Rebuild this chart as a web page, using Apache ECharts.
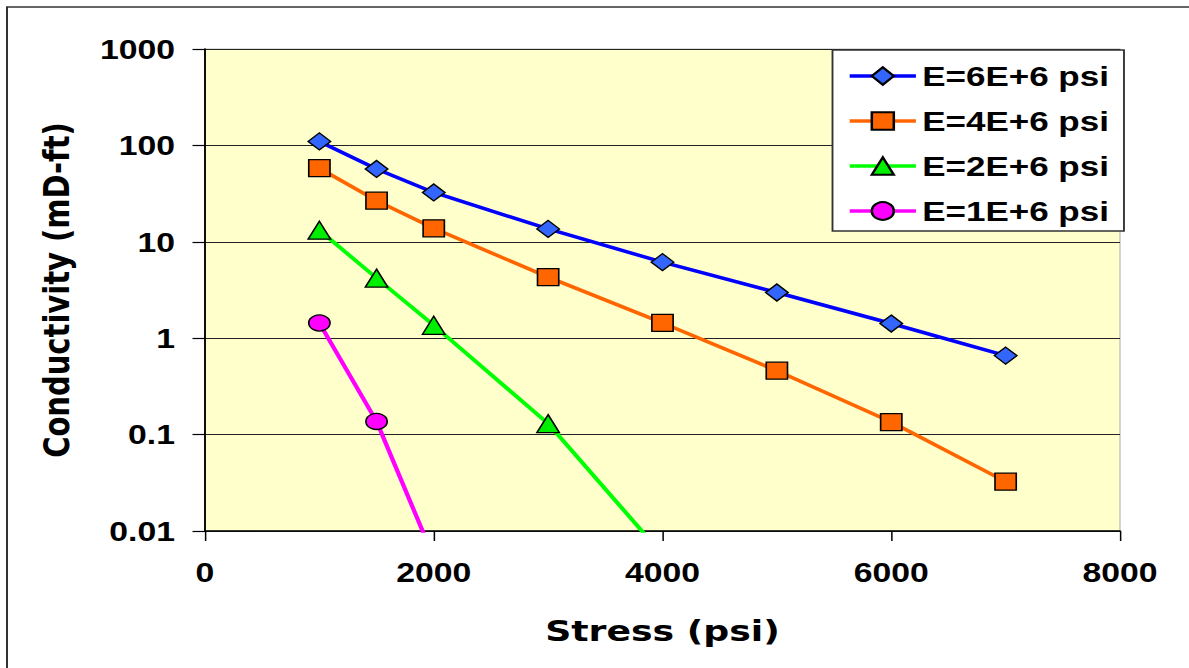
<!DOCTYPE html>
<html>
<head>
<meta charset="utf-8">
<script src="https://cdn.jsdelivr.net/npm/echarts@6/dist/echarts.min.js"></script>
<style>
  html, body { margin: 0; padding: 0; background: #fff; overflow: hidden; }
  #wrap { width: 1189px; height: 668px; overflow: hidden; position: relative; }
  #chart { width: 952px; height: 668px; transform: scaleX(1.25); transform-origin: 0 0; }
</style>
</head>
<body>
<div id="wrap"><div id="chart"></div></div>
<script>
// Data
const seriesNames = ['E=6E+6 psi', 'E=4E+6 psi', 'E=2E+6 psi', 'E=1E+6 psi'];
const stressE6 = [1000, 1500, 2000, 3000, 4000, 5000, 6000, 7000];
const condE6   = [110, 57, 32.5, 13.6, 6.15, 2.98, 1.42, 0.66];
const stressE4 = [1000, 1500, 2000, 3000, 4000, 5000, 6000, 7000];
const condE4   = [58, 26.7, 13.8, 4.3, 1.44, 0.46, 0.135, 0.0325];
const stressE2 = [1000, 1500, 2000, 3000, 4000];
const condE2   = [13.2, 4.2, 1.36, 0.13, 0.0057];
const stressE1 = [1000, 1500, 2000];
const condE1   = [1.44, 0.137, 0.0053];
const xTicks = [0, 2000, 4000, 6000, 8000];
const yTicks = [0.01, 0.1, 1, 10, 100, 1000];

const pairs = (xs, ys) => xs.map((x, i) => [x, ys[i]]);

const labelFont = { color: '#000', fontWeight: 'bold', fontFamily: 'Liberation Sans', fontSize: 27 };
const titleFont = { color: '#000', fontWeight: 'bold', fontFamily: 'DejaVu Sans', fontSize: 29 };

function mkSeries(name, data, lineColor, fillColor, symbol, size) {
  return {
    name: name,
    type: 'line',
    data: data,
    clip: true,
    symbol: symbol,
    symbolSize: size,
    showAllSymbol: true,
    lineStyle: { color: lineColor, width: 3.5 },
    itemStyle: { color: fillColor, borderColor: '#000', borderWidth: 1.3 },
    emphasis: { disabled: true },
    animation: false
  };
}

const chart = echarts.init(document.getElementById('chart'), null, { renderer: 'svg' });
chart.setOption({
  backgroundColor: '#fff',
  animation: false,
  graphic: [{
    type: 'rect',
    shape: { x: 5.6, y: 7, width: 2000, height: 2000 },
    style: { fill: 'none', stroke: '#333', lineWidth: 1.6 },
    silent: true,
    z: -10
  }],
  grid: {
    left: 164, top: 49, width: 732, height: 482,
    show: true, backgroundColor: '#FFFFCC', borderColor: '#bbb', borderWidth: 1
  },
  legend: {
    orient: 'vertical',
    left: 666, top: 50,
    padding: [12, 12, 6, 12],
    itemWidth: 53, itemHeight: 22, itemGap: 17,
    backgroundColor: '#fff', borderColor: '#333', borderWidth: 1.5,
    lineStyle: { width: 3.5 },
    textStyle: { color: '#000', fontWeight: 'bold', fontFamily: 'Liberation Sans', fontSize: 28, lineHeight: 27 },
    data: seriesNames
  },
  xAxis: {
    type: 'value', min: xTicks[0], max: xTicks[xTicks.length - 1], interval: 2000,
    name: 'Stress (psi)', nameLocation: 'middle', nameGap: 86,
    nameTextStyle: titleFont,
    axisLine: { show: true, onZero: false, lineStyle: { color: '#000', width: 1.5 } },
    axisTick: { show: true, inside: false, length: 10, lineStyle: { color: '#000', width: 1.2 } },
    axisLabel: Object.assign({ margin: 28, formatter: function (v) { return String(v); } }, labelFont),
    splitLine: { show: false }
  },
  yAxis: {
    type: 'log', logBase: 10, min: yTicks[0], max: yTicks[yTicks.length - 1],
    name: 'Conductivity (mD-ft)', nameLocation: 'middle', nameGap: 104, nameRotate: 90,
    nameTextStyle: titleFont,
    axisLine: { show: true, lineStyle: { color: '#000', width: 1.5 } },
    axisTick: { show: true, inside: false, length: 10, lineStyle: { color: '#000', width: 1.2 } },
    axisLabel: Object.assign({
      margin: 24,
      formatter: function (v) {
        let best = yTicks[0];
        yTicks.forEach(t => { if (Math.abs(Math.log10(t) - Math.log10(v)) < Math.abs(Math.log10(best) - Math.log10(v))) best = t; });
        return String(best);
      }
    }, labelFont),
    splitLine: { show: true, lineStyle: { color: '#222', width: 1.2 } },
    minorTick: { show: false }
  },
  series: [
    mkSeries(seriesNames[0], pairs(stressE6, condE6), '#0000FF', '#3366FF', 'diamond', [18, 17]),
    mkSeries(seriesNames[1], pairs(stressE4, condE4), '#FF6600', '#FF6600', 'rect', [17, 17]),
    mkSeries(seriesNames[2], pairs(stressE2, condE2), '#00FF00', '#00EE00', 'triangle', [18, 18]),
    mkSeries(seriesNames[3], pairs(stressE1, condE1), '#FF00FF', '#FF00FF', 'circle', [17, 16])
  ]
});
</script>
</body>
</html>
